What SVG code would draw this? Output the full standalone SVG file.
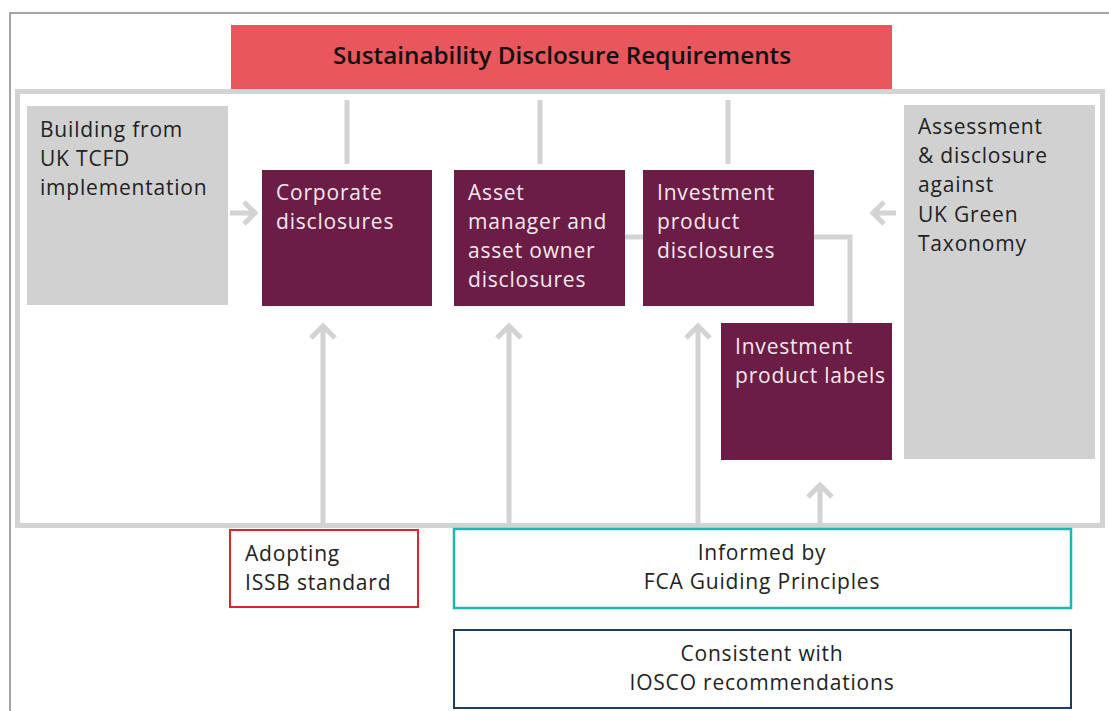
<svg xmlns="http://www.w3.org/2000/svg" width="1109" height="711" viewBox="0 0 1109 711">
<style>
.t{font-family:"Open Sans",Lato,"Liberation Sans",sans-serif;font-size:21px;letter-spacing:0.8px;}
.w{fill:#f3e9ee;}
.d{fill:#222;}
.m{fill:#6b1d45;}
.g{fill:#d1d1d1;}
.c{stroke:#d3d3d3;stroke-width:5;fill:none;}
</style>
<rect width="1109" height="711" fill="#fff"/>
<path d="M10,711 V13 H1109" fill="none" stroke="#888" stroke-width="1.5"/>
<rect x="17.5" y="91.5" width="1085" height="434" fill="none" stroke="#d3d3d3" stroke-width="5"/>
<g id="title">
<rect x="231" y="25" width="661" height="64" fill="#e9565c"/>
<text x="333" y="64" textLength="458" lengthAdjust="spacingAndGlyphs" font-family="'Open Sans',Lato,sans-serif" font-weight="600" font-size="23" fill="#111">Sustainability Disclosure Requirements</text>
</g>
<g id="connectors" class="c">
<path d="M347,100 V164 M540,100 V164 M728,100 V164"/>
<path d="M625,237 H643"/>
<path d="M814,237 H850 V323"/>
<path d="M230,213 H254 M244,202 L255,213 L244,224"/>
<path d="M896,213 H873 M884,202 L873,213 L884,224"/>
<path d="M323,526 V328 M311,338 L323,326 L335,338"/>
<path d="M509,526 V328 M497,338 L509,326 L521,338"/>
<path d="M698,526 V328 M686,338 L698,326 L710,338"/>
<path d="M820,526 V487 M808,497 L820,485 L832,497"/>
</g>
<g id="tcfd">
<rect x="27" y="106" width="201" height="199" class="g"/>
<text class="t d"><tspan x="40" y="137">Building from</tspan><tspan x="40" y="166">UK TCFD</tspan><tspan x="40" y="195">implementation</tspan></text>
</g>
<g id="corporate">
<rect x="262" y="170" width="170" height="136" class="m"/>
<text class="t w"><tspan x="276" y="200">Corporate</tspan><tspan x="276" y="229">disclosures</tspan></text>
</g>
<g id="asset">
<rect x="454" y="170" width="171" height="136" class="m"/>
<text class="t w"><tspan x="468" y="200">Asset</tspan><tspan x="468" y="229">manager and</tspan><tspan x="468" y="258">asset owner</tspan><tspan x="468" y="287">disclosures</tspan></text>
</g>
<g id="product">
<rect x="643" y="170" width="171" height="136" class="m"/>
<text class="t w"><tspan x="657" y="200">Investment</tspan><tspan x="657" y="229">product</tspan><tspan x="657" y="258">disclosures</tspan></text>
</g>
<g id="labels">
<rect x="721" y="323" width="171" height="137" class="m"/>
<text class="t w"><tspan x="735" y="354">Investment</tspan><tspan x="735" y="383">product labels</tspan></text>
</g>
<g id="taxonomy">
<rect x="904" y="105" width="191" height="354" class="g"/>
<text class="t d"><tspan x="918" y="134">Assessment</tspan><tspan x="918" y="163">&amp; disclosure</tspan><tspan x="918" y="192">against</tspan><tspan x="918" y="222">UK Green</tspan><tspan x="918" y="251">Taxonomy</tspan></text>
</g>
<g id="issb">
<rect x="230" y="530" width="188" height="77" fill="#fff" stroke="#d9262c" stroke-width="2"/>
<text class="t d"><tspan x="245" y="561">Adopting</tspan><tspan x="245" y="590">ISSB standard</tspan></text>
</g>
<g id="fca">
<rect x="454" y="529" width="617" height="79" fill="#fff" stroke="#1fb5b0" stroke-width="2.5"/>
<text class="t d" text-anchor="middle"><tspan x="762" y="560">Informed by</tspan><tspan x="762" y="589">FCA Guiding Principles</tspan></text>
</g>
<g id="iosco">
<rect x="454" y="630" width="617" height="78" fill="#fff" stroke="#1d3d63" stroke-width="2"/>
<text class="t d" text-anchor="middle"><tspan x="762" y="661">Consistent with</tspan><tspan x="762" y="690">IOSCO recommendations</tspan></text>
</g>
</svg>
